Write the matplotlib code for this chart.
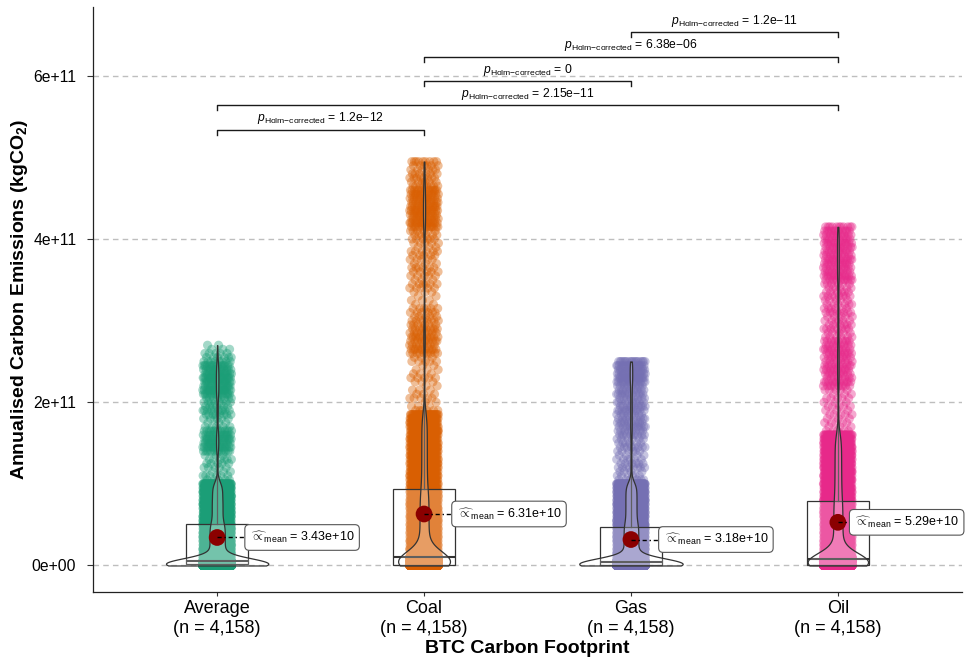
import numpy as np
import matplotlib
matplotlib.use('Agg')
import matplotlib.pyplot as plt

plt.rcParams['font.family'] = ['Liberation Sans', 'DejaVu Sans']
plt.rcParams['mathtext.fontset'] = 'custom'
plt.rcParams['mathtext.rm'] = 'Liberation Sans'
plt.rcParams['mathtext.it'] = 'Liberation Sans:italic'
plt.rcParams['mathtext.bf'] = 'Liberation Sans:bold'

# ---- data ----
groups = ['Average', 'Coal', 'Gas', 'Oil']
group_n = ['4,158', '4,158', '4,158', '4,158']
palette = ['#1B9E77', '#D95F02', '#7570B3', '#E7298A']

# emissions binned in steps of 0.05e11 kgCO2, count of observations per bin (bin 0 = 0 kgCO2)
bin_step = 0.05e11
average_counts = [1382, 852,
                  104, 102, 100, 101, 99, 101, 102, 100, 100,
                  71, 70, 69, 73, 71, 69, 67, 67, 66, 67,
                  5, 6, 3, 5, 5, 6, 3,
                  13, 16, 14, 16, 14, 13,
                  5, 3, 6,
                  8, 10, 6, 8, 8,
                  16, 18, 14, 16, 18, 16, 14, 16,
                  8, 6, 5, 3, 2]
coal_counts = [901, 600, 579,
               65, 63, 62, 61, 61, 60, 60, 59, 59, 59, 59, 59, 59, 58, 58, 58,
               40, 39, 38, 38, 37, 37, 37, 36, 36, 36, 36, 36, 36, 36, 35, 35, 36, 36, 35,
               6,
               3, 2, 5, 3, 3, 2, 3, 5, 3, 3, 2, 5, 3,
               10, 11, 8, 10, 11, 8, 10,
               6, 8, 5, 6, 6,
               2, 3, 2, 3,
               5, 6, 3, 5, 5, 6, 3, 5, 5, 6, 3, 5,
               6, 6, 6,
               14, 16, 13, 14, 16, 14, 13, 14, 14, 14,
               8, 6, 8, 6, 6, 6, 9]
gas_counts = [1457, 802,
              99, 97, 96, 98, 97, 96, 97, 96, 97,
              74, 73, 75, 72, 73, 74, 72, 73, 72, 72,
              6, 6, 4, 8, 6, 6, 4, 6, 8, 6, 6,
              10, 8, 12, 10, 10, 8, 12, 10, 10, 8, 12, 10, 10,
              16, 18, 16, 16, 16, 18]
oil_counts = [998, 800, 400,
              65, 64, 63, 62, 62, 61, 61, 60, 60, 60, 60, 59, 59, 58,
              47, 46, 46, 45, 45, 44, 44, 44, 43, 43, 43, 43, 42, 42, 42, 41,
              5, 3, 5, 3, 5, 3, 5, 3, 5, 3, 5,
              10, 11, 8, 10, 10, 11, 8, 10, 10, 11, 8, 10,
              6, 5, 8, 6, 6, 5, 8, 6, 6, 5, 8, 6, 6, 6,
              11, 13, 10, 11, 11, 13, 10, 11, 11, 13, 10, 11, 11, 11]
all_counts = [average_counts, coal_counts, gas_counts, oil_counts]

box_q1 = [0.015e11, 0.0, 0.01e11, 0.0]
box_median = [0.055e11, 0.108e11, 0.047e11, 0.083e11]
box_q3 = [0.51e11, 0.934e11, 0.468e11, 0.79e11]
means = [3.43e10, 6.31e10, 3.18e10, 5.29e10]
mean_labels = ['3.43e+10', '6.31e+10', '3.18e+10', '5.29e+10']

pairs = [(1, 2), (1, 4), (2, 3), (2, 4), (3, 4)]
p_values = ['1.2e\u221212', '2.15e\u221211', '0', '6.38e\u221206', '1.2e\u221211']

y_ticks = [0, 2e11, 4e11, 6e11]
y_tick_labels = ['0e+00', '2e+11', '4e+11', '6e+11']


def nrd0(v):
    sd = np.std(v, ddof=1)
    iqr = np.percentile(v, 75) - np.percentile(v, 25)
    return 0.9 * min(sd, iqr / 1.34) * len(v) ** -0.2


fig = plt.figure(figsize=(9.68, 6.62), dpi=100)
ax = fig.add_axes([93 / 968, 1 - 592 / 662, (962 - 93) / 968, (592 - 6.7) / 662])

positions = np.arange(1, len(groups) + 1)
edge = '#333333'

# violin densities (gaussian kde, trimmed to data range)
grids, dens = [], []
for counts in all_counts:
    counts = np.array(counts)
    levels = np.arange(len(counts)) * bin_step
    vals = np.repeat(levels, counts)
    bw = nrd0(vals)
    g = np.linspace(vals.min(), vals.max(), 512)
    d = (counts[None, :] * np.exp(-0.5 * ((g[:, None] - levels[None, :]) / bw) ** 2)).sum(axis=1)
    d = d / (len(vals) * bw * np.sqrt(2 * np.pi))
    grids.append(g)
    dens.append(d)
dmax = max(d.max() for d in dens)

stats = []
for i, counts in enumerate(all_counts):
    x = positions[i]
    levels = np.arange(len(counts)) * bin_step
    vals = np.repeat(levels, counts)
    idx = np.arange(len(vals))
    jit = ((idx * 0.6180339887498949) % 1.0 - 0.5) * 2 * 0.07
    ax.scatter(x + jit, vals, s=42, color=palette[i], alpha=0.4,
               edgecolors='none', zorder=2)

    iqr = box_q3[i] - box_q1[i]
    hi = vals[vals <= box_q3[i] + 1.5 * iqr].max()
    stats.append(dict(med=box_median[i], q1=box_q1[i], q3=box_q3[i],
                      whislo=box_q1[i], whishi=hi, fliers=[]))

    w = dens[i] / dmax * 0.25
    ax.fill_betweenx(grids[i], x - w, x + w, facecolor=(1, 1, 1, 0.22),
                     edgecolor=edge, linewidth=0.9, zorder=4)

ax.bxp(stats, positions=positions, widths=0.3, showfliers=False, showcaps=False,
       patch_artist=True, manage_ticks=False,
       boxprops=dict(facecolor=(1, 1, 1, 0.22), edgecolor=edge, linewidth=0.9),
       medianprops=dict(color=edge, linewidth=1.5),
       whiskerprops=dict(color=edge, linewidth=0.9), zorder=3)

# means with labels
label_offsets = [0.158, 0.158, 0.158, 0.08]
ax.scatter(positions, means, s=145, color='#8B0000', zorder=5, edgecolors='none')
for i, m in enumerate(means):
    x = positions[i]
    off = label_offsets[i]
    ax.plot([x, x + off - 0.02], [m, m], color='black', lw=1.0,
            linestyle=(0, (3, 2, 1, 2)), zorder=6)
    ax.text(x + off, m, r'$\widehat{\propto}_{\mathrm{mean}}$ = ' + mean_labels[i],
            ha='left', va='center', fontsize=9, zorder=7,
            bbox=dict(boxstyle='round,pad=0.4,rounding_size=0.35', fc='white',
                      ec='#555555', lw=0.8))

# pairwise comparison brackets
for k, (a, b) in enumerate(pairs):
    y = 5.34e11 + k * 0.298e11
    tick = 0.06e11
    ax.plot([a, a, b, b], [y - tick, y, y, y - tick], color='#1a1a1a', lw=1.0,
            zorder=6, clip_on=False)
    ax.text((a + b) / 2, y + 0.14e11,
            r'$\mathit{p}_{\mathrm{Holm{-}corrected}}$ = ' + p_values[k],
            ha='center', va='center', fontsize=8.7)

ax.set_xlim(0.4, 4.6)
ax.set_ylim(-0.325e11, 6.848e11)
ax.set_yticks(y_ticks)
ax.set_yticklabels(y_tick_labels)
ax.set_xticks(positions)
ax.set_xticklabels([f'{g}\n(n = {n})' for g, n in zip(groups, group_n)])
ax.tick_params(axis='y', labelsize=11.3, length=4, pad=8, color='#333333')
ax.tick_params(axis='x', labelsize=13, length=3, pad=3, color='#333333')

ax.yaxis.grid(True, linestyle=(0, (4, 3)), color='#BEBEBE', lw=1.0)
ax.set_axisbelow(True)
for s in ['top', 'right']:
    ax.spines[s].set_visible(False)
for s in ['left', 'bottom']:
    ax.spines[s].set_linewidth(0.9)
    ax.spines[s].set_color('#222222')

ax.set_xlabel('BTC Carbon Footprint', fontsize=14, fontweight='bold', labelpad=2)
ax.set_ylabel(r'Annualised Carbon Emissions (kgCO$_{\mathbf{2}}$)', fontsize=14,
              fontweight='bold', labelpad=1)

fig.savefig('out.png', dpi=100)
